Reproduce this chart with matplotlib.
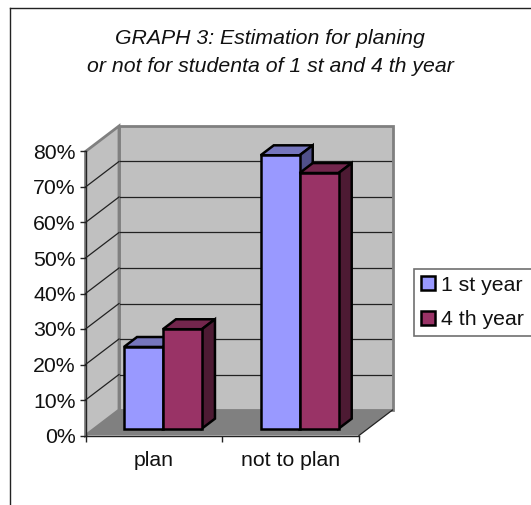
"""Excel-style 3D clustered column chart: planning estimate, 1st vs 4th year students."""

import matplotlib
matplotlib.use("Agg")
import matplotlib.pyplot as plt
from matplotlib.lines import Line2D
from matplotlib.patches import Patch, Polygon, Rectangle

plt.rcParams["font.family"] = ["Liberation Sans", "DejaVu Sans"]

categories = ["plan", "not to plan"]
first_year = [23, 77]
fourth_year = [28, 72]
series_names = ["1 st year", "4 th year"]
y_ticks = [0, 10, 20, 30, 40, 50, 60, 70, 80]
title_text = "GRAPH 3: Estimation for planing\nor not for studenta of 1 st and 4 th year"

W, H = 531, 505
FONT = 15.3

# projection of the depth axis, in data units (x categories, y percent)
DEPTH_X = 33.5 / 136.75
DEPTH_Y = 25.5 / 35.5 * 10
BAR_W = 0.285
Z_FRONT, Z_BACK = 0.27, 0.66

# (front, top, side) shades
COLORS_1 = ("#9999FF", "#7575BD", "#50508A")
COLORS_4 = ("#993366", "#73264D", "#4D1A33")


def shift(x, y, z):
    return x + DEPTH_X * z, y + DEPTH_Y * z


def draw_bar(ax, x0, value, colors):
    x1 = x0 + BAR_W
    front = [shift(x0, 0, Z_FRONT), shift(x1, 0, Z_FRONT),
             shift(x1, value, Z_FRONT), shift(x0, value, Z_FRONT)]
    top = [shift(x0, value, Z_FRONT), shift(x1, value, Z_FRONT),
           shift(x1, value, Z_BACK), shift(x0, value, Z_BACK)]
    side = [shift(x1, 0, Z_FRONT), shift(x1, 0, Z_BACK),
            shift(x1, value, Z_BACK), shift(x1, value, Z_FRONT)]
    for pts, col in [(top, colors[1]), (side, colors[2]), (front, colors[0])]:
        ax.add_patch(Polygon(pts, closed=True, facecolor=col, edgecolor="black",
                             linewidth=1.8, joinstyle="miter", zorder=5, clip_on=False))


fig = plt.figure(figsize=(W / 100, H / 100), dpi=100, facecolor="white")
ax = fig.add_axes([85.5 / W, 1 - 435.5 / H, 273.5 / W, 284 / H])
ax.set_xlim(0, 2)
ax.set_ylim(0, 80)
ax.patch.set_visible(False)

n_cat = len(categories)
y_max = y_ticks[-1]

# back wall, side wall, floor
ax.add_patch(Polygon([shift(0, 0, 1), shift(n_cat, 0, 1), shift(n_cat, y_max, 1), shift(0, y_max, 1)],
                     closed=True, facecolor="#C0C0C0", edgecolor="#808080", linewidth=2.0,
                     zorder=1, clip_on=False))
ax.add_patch(Polygon([shift(0, 0, 0), shift(0, 0, 1), shift(0, y_max, 1), shift(0, y_max, 0)],
                     closed=True, facecolor="#C0C0C0", edgecolor="#808080", linewidth=2.0,
                     zorder=1, clip_on=False))
ax.add_patch(Polygon([shift(0, 0, 0), shift(n_cat, 0, 0), shift(n_cat, 0, 1), shift(0, 0, 1)],
                     closed=True, facecolor="#808080", edgecolor="none", zorder=2, clip_on=False))

# gridlines on both walls
for t in y_ticks[1:-1]:
    bx, by = shift(0, t, 1)
    ex, ey = shift(n_cat, t, 1)
    ax.plot([bx + 0.005, ex - 0.01], [by, ey], color="#222222", lw=0.9, zorder=3, clip_on=False)
    ax.plot([0, bx], [t, by], color="#222222", lw=0.9, zorder=3, clip_on=False)
ex, ey = shift(n_cat, 0, 1)
ax.plot([n_cat, ex], [0, ey], color="#222222", lw=0.9, zorder=3, clip_on=False)

for i in range(n_cat):
    centre = i + 0.5
    draw_bar(ax, centre - BAR_W, first_year[i], COLORS_1)
    draw_bar(ax, centre, fourth_year[i], COLORS_4)

for name in ["top", "right"]:
    ax.spines[name].set_visible(False)
for name in ["left", "bottom"]:
    ax.spines[name].set_color("#222222")
    ax.spines[name].set_linewidth(1.0)
    ax.spines[name].set_zorder(6)

ax.set_yticks(y_ticks)
ax.set_yticklabels([f"{t}%" for t in y_ticks], fontsize=FONT, color="#111111")
ax.set_xticks(range(n_cat + 1))
ax.set_xticklabels([])
ax.set_xticks([i + 0.5 for i in range(n_cat)], minor=True)
ax.set_xticklabels(categories, minor=True, fontsize=FONT, color="#111111")
ax.tick_params(axis="x", which="minor", length=0, pad=11)
ax.tick_params(axis="both", which="major", length=4, width=1.0, color="#222222")
ax.tick_params(axis="y", pad=3)

fig.text(270 / W, 1 - 52.5 / H, title_text, ha="center", va="center", fontsize=FONT,
         style="italic", color="#111111", linespacing=1.55)

# chart area border: only top and left fall inside the crop
fig.add_artist(Line2D([9.5 / W, 9.5 / W], [0, 1 - 7.5 / H], color="#222222", lw=1.0))
fig.add_artist(Line2D([9.5 / W, 1], [1 - 7.5 / H, 1 - 7.5 / H], color="#222222", lw=1.0))

# legend box runs off the right edge
fig.add_artist(Rectangle((414 / W, 1 - 336 / H), 130 / W, 67 / H, transform=fig.transFigure,
                         facecolor="white", edgecolor="#707070", linewidth=1.2))
handles = [Patch(facecolor=COLORS_1[0], edgecolor="black", linewidth=1.8),
           Patch(facecolor=COLORS_4[0], edgecolor="black", linewidth=1.8)]
leg = fig.legend(handles, series_names, loc="center left", bbox_to_anchor=(421 / W, 1 - 302.5 / H),
                 frameon=False, fontsize=FONT, handlelength=0.65, handleheight=0.65,
                 handletextpad=0.28, labelspacing=0.75, borderpad=0, borderaxespad=0)
for text in leg.get_texts():
    text.set_color("#111111")

fig.savefig("out.png", dpi=100)
plt.close(fig)
